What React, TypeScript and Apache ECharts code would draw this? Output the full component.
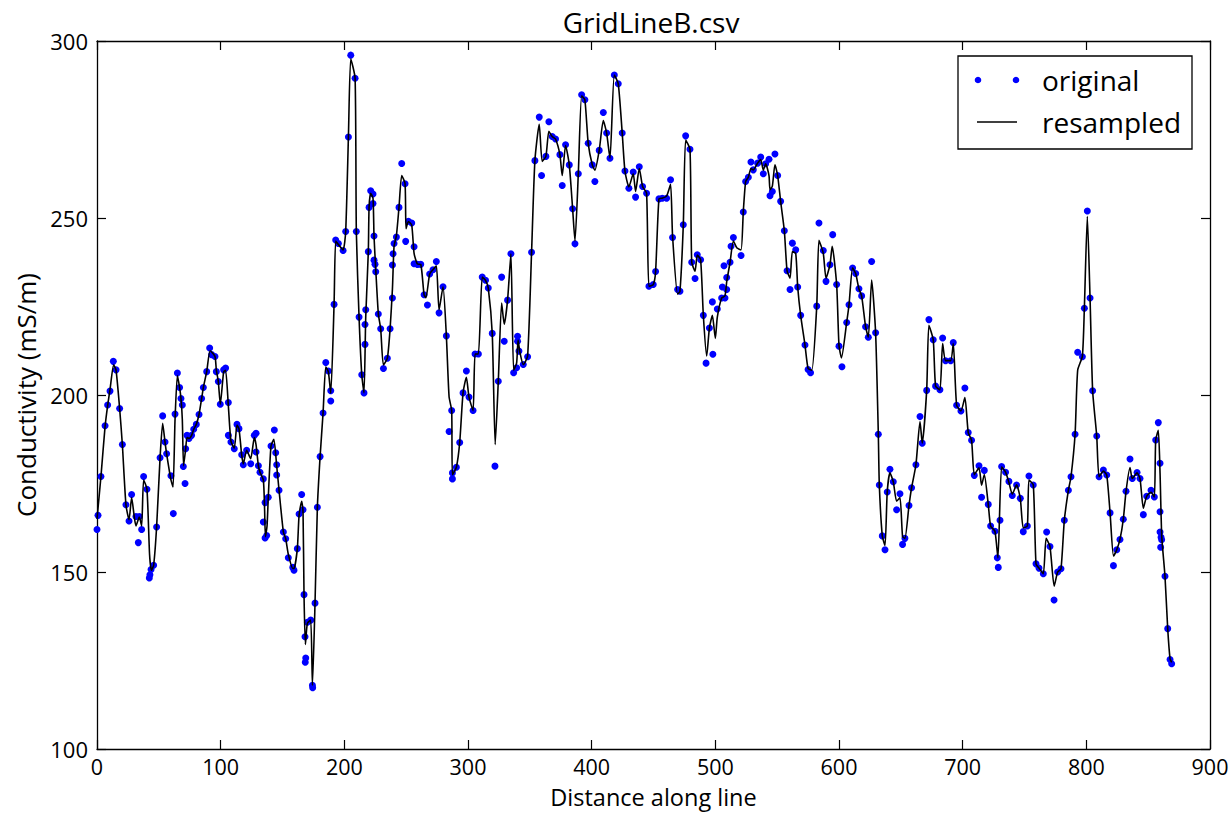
import React, { useEffect, useRef } from "react";
import * as echarts from "echarts";

const chartTitle = "GridLineB.csv";
const xAxisTitle = "Distance along line";
const yAxisTitle = "Conductivity (mS/m)";
const seriesNames = ["original", "resampled"];
const xTicks = { min: 0, max: 900, interval: 100 };
const yTicks = { min: 100, max: 300, interval: 50 };

// measured points ("original")
const originalPoints: [number, number][] = [
  [0, 162], [0.8, 166], [3.2, 177], [6.5, 191.3], [8.6, 197.2], [10.5, 201.1], [13.2, 209.5], [15.4, 207.1],
  [18.3, 196.2], [20.5, 186], [23.4, 169], [25.9, 164.4], [28, 171.9], [31.5, 165.7], [33.4, 158.3], [34.2, 165.7],
  [36.1, 162], [37.7, 177], [40.4, 173.4], [42.3, 148.3], [42.8, 149.2], [43.7, 150.7], [45.8, 151.9], [48.2, 162.7],
  [51, 182.3], [53.1, 194.1], [55, 186.7], [56.3, 183.4], [59.8, 177.2], [61.7, 166.5], [63.1, 194.6], [65, 206.2],
  [66.8, 202.1], [67.9, 199], [69, 197.2], [69.8, 179.8], [71.2, 175], [71.7, 184.8], [72.8, 188.6], [74.4, 187.7],
  [76.5, 188.6], [78.2, 190.3], [80.3, 191.7], [82.5, 194.5], [84.6, 199], [86, 202.1], [88.7, 206.6], [91.1, 213.3],
  [92.7, 211.4], [95.4, 210.9], [96.5, 206.6], [98.1, 203.8], [99.7, 197.4], [102.4, 207.1], [104, 207.6], [106.2, 197.9],
  [106.2, 188.6], [108.3, 186.7], [111, 184.8], [113.2, 191.7], [114.8, 190.5], [117, 183.1], [118.3, 180.3], [121, 184.4],
  [124.3, 180.6], [127.2, 188.6], [128.6, 189.2], [128.6, 183.9], [130.5, 180], [131.8, 178.2], [134.5, 176.3], [135.9, 169.6],
  [134.5, 164.1], [135.9, 159.6], [137.2, 160.3], [138.5, 171.1], [140.7, 185.6], [143.4, 190.1], [144.5, 183.7], [145.3, 180.3],
  [145.3, 177.4], [147.2, 173.1], [150.7, 161.3], [152.6, 159.4], [154.7, 154], [158.3, 151.3], [159.3, 150.5], [162, 156.6],
  [163.4, 166.4], [165.5, 171.9], [166.6, 167.6], [167.4, 143.6], [168.2, 131.7], [168.8, 125.7], [168.4, 124.5], [170.1, 135.8],
  [172.8, 136.4], [174.2, 118], [174.4, 117.3], [176.3, 141.2], [178.2, 168.3], [180.4, 182.6], [182.8, 194.9], [185, 209.2],
  [187.1, 206.8], [189, 201.2], [189, 198.3], [191.7, 225.6], [193, 243.8], [195.2, 242.8], [199, 240.8], [201.1, 246.2],
  [203.3, 272.9], [205.2, 296], [208.7, 289.5], [209.7, 246.2], [211.9, 222], [214.1, 205.7], [215.9, 200.6], [216.7, 214.3],
  [216.7, 219.9], [217.3, 224.1], [219.4, 240.5], [220, 253], [221.3, 257.7], [223.2, 256.8], [223.2, 254.1], [224, 244.9],
  [224, 238.1], [224.8, 236.9], [225.4, 234.8], [227.5, 222.9], [229.4, 218.7], [231.6, 207.5], [234.8, 210.4], [237, 218.7],
  [238.9, 227.4], [238.9, 236.7], [239.4, 239.9], [240.2, 242.8], [242.1, 244.6], [244.2, 253], [246.4, 265.4], [249.1, 259.7],
  [249.6, 243.4], [251.8, 249.1], [254.5, 248.6], [256.4, 241.9], [256.4, 237.1], [259.1, 236.9], [261.8, 236.9], [264.5, 228.3],
  [267.2, 225.4], [269, 234.2], [271.7, 235.4], [274.4, 237.7], [276.6, 223.2], [279.8, 230.6], [282.5, 216.7], [284.7, 189.7],
  [286.8, 195.6], [287.4, 178], [287.4, 176.3], [290.6, 179.6], [293.3, 186.6], [296, 200.6], [298.7, 206.8], [300.8, 199.4],
  [304.1, 195.6], [305.7, 211.6], [308.4, 211.6], [311.5, 233.3], [314.2, 232.4], [316.4, 230.2], [319.6, 217.4], [321.8, 179.9],
  [324.5, 203.9], [327.2, 233.3], [329.3, 215.2], [332, 226.8], [334.7, 239.9], [336.9, 206.3], [339.3, 207.7], [340.1, 216.6],
  [340.1, 215.2], [341.2, 212.4], [344.7, 208.6], [348.2, 210.8], [351.4, 240.3], [354.1, 266.2], [357.6, 278.5], [359.5, 262],
  [363, 267.4], [365.4, 277.2], [368.1, 273], [370.8, 272.3], [374.3, 267.9], [376.2, 259.2], [378.9, 270.7], [381.9, 265],
  [384.6, 252.6], [386.5, 242.7], [389.2, 262.5], [391.9, 284.8], [394.5, 283.4], [397.2, 271.1], [400.5, 265], [402.6, 260.3],
  [406.1, 269.1], [409.4, 279.8], [412.1, 274], [414.8, 266.9], [418.3, 290.4], [421.5, 287.9], [424.7, 274], [426.9, 263.3],
  [430.1, 258.4], [433.6, 263], [435.5, 255.9], [438.5, 264.5], [441.2, 258.9], [444.4, 257], [446.3, 230.7], [449.8, 231.2],
  [451.7, 234.9], [454.4, 255.4], [457.1, 255.6], [460.6, 255.6], [463.8, 260.8], [465.4, 244.5], [469.5, 229.8], [471.4, 229.3],
  [474.1, 248.1], [476, 273.2], [479.5, 269.4], [480.9, 237.5], [483.6, 232.9], [485.4, 239.6], [488.1, 238.2], [490.3, 222.5],
  [492.5, 209], [495.2, 218.9], [497.6, 226.3], [498, 211.5], [501.6, 224.3], [505.1, 227.4], [505.7, 230.5], [507, 236.5],
  [507.8, 227.4], [509.2, 229.8], [509.2, 233.2], [511.9, 237.5], [512.7, 242], [514.6, 244.5], [520.8, 239.4], [522.6, 251.7],
  [524.5, 260.3], [526.7, 261.5], [528.8, 265.8], [530.7, 263.6], [534.2, 265.5], [536.7, 267.2], [538.8, 262.5], [540.7, 265.3],
  [543.4, 266.6], [544.2, 256.3], [546.1, 257.5], [548.2, 268.1], [550.4, 262], [552.8, 254.7], [555.8, 246.4], [558, 235.1],
  [560.4, 229.8], [562.3, 242.9], [565, 241], [566.6, 230.5], [569, 222.5], [572.5, 214.1], [575, 207.2], [577, 206.3],
  [582, 225.1], [583.8, 248.6], [587.3, 240.8], [589.5, 232.1], [592.7, 236.8], [594.9, 245.3], [598.1, 231.2], [600, 213.8],
  [602.4, 208], [606.2, 220.5], [608.1, 225.5], [611, 235.9], [613.5, 234.3], [616.1, 230], [618.3, 228], [621.5, 219.3],
  [623.7, 216.3], [626.4, 237.7], [629.6, 217.6], [631.8, 188.9], [632.6, 174.6], [635, 160.2], [637.2, 156.3], [639, 172.6],
  [641.2, 179], [643.9, 175.5], [646.6, 167.6], [649.3, 172.1], [651.4, 157.8], [653.3, 159.5], [656.6, 168.8], [658.7, 173.8],
  [662.2, 180.3], [665.5, 193.9], [667.3, 186.4], [670.9, 201.3], [672.7, 221.3], [676.2, 215.6], [678.1, 202.5], [681.6, 201.5],
  [683.8, 216.1], [686.2, 209.7], [690.3, 209.7], [692.4, 214.8], [695.1, 197.1], [698.6, 195.5], [701.8, 202], [704.5, 189.4],
  [707.2, 187.2], [709.4, 177.3], [713.2, 180], [715.3, 171.1], [717.5, 178.7], [720.7, 169.1], [722.6, 163], [726.1, 161.5],
  [728, 154], [728.8, 151.3], [730.2, 164.6], [731.5, 179.8], [734.7, 178.2], [737.4, 175.6], [740.1, 171.6], [743.6, 174.6],
  [746.6, 170.8], [749, 161.4], [752.3, 163], [753.6, 177.1], [757.1, 174.6], [759.3, 152.3], [761.7, 151.1], [765.2, 149.5],
  [767.9, 161.3], [770.6, 157.2], [773.9, 142.1], [776.8, 150], [779.5, 150.9], [782.2, 164.6], [785.5, 173.1], [787.6, 176.9],
  [790.9, 188.9], [793, 212.1], [796.8, 210.8], [798.4, 224.5], [800.8, 252], [803, 227.4], [805.1, 201.2], [808.4, 188.4],
  [810.3, 176.9], [813.8, 178.8], [816.5, 177.4], [819.2, 166.7], [821.9, 151.8], [824.6, 156.3], [827.2, 159.2], [829.9, 164.9],
  [832.1, 172.8], [835.3, 181.9], [837.2, 176.4], [841, 178.1], [843.4, 176.4], [846.1, 166.2], [848.8, 171.4], [852.3, 173.1],
  [855, 171.2], [856.1, 187.3], [858.2, 192.2], [859.6, 180.7], [859.6, 167], [859.6, 161.3], [860.4, 159.8], [860.9, 159.1],
  [860.1, 157], [863.6, 148.8], [865.8, 134], [867.7, 125.3], [869, 124.1],
];

// resampled curve vertices
const resampledPoints: [number, number][] = [
  [0, 165], [3.2, 177], [6.5, 191], [8.6, 197], [10.5, 201.5], [13.5, 208.5], [15.4, 207], [18.3, 196.2], [20.5, 186],
  [23.4, 169], [25.9, 164.8], [28, 171], [30, 166], [31.5, 163], [34.2, 165.5], [36.1, 163], [37.7, 176], [40.4, 173.4],
  [42.5, 155], [44, 150.5], [45.8, 151.9], [48.2, 162.7], [51, 182.3], [53.1, 192], [55, 186.7], [56.3, 183.4],
  [59.8, 176], [61.5, 174], [63.1, 193], [65, 205.5], [66.8, 202.1], [67.9, 199], [69, 193], [70, 180], [71.7, 184.8],
  [72.8, 188], [74.4, 187.7], [76.5, 188.6], [78.2, 190.3], [80.3, 191.7], [82.5, 194.5], [84.6, 199], [86, 202.1],
  [88.7, 206.6], [91.5, 212.5], [95.4, 210.9], [96.5, 207], [98.1, 203.8], [99.7, 197.4], [102.4, 206.5], [104, 207],
  [106.2, 197], [108.3, 187], [111, 185], [113.2, 191.5], [114.8, 190.5], [117, 183.1], [118.3, 180.5], [121, 184.4],
  [124.3, 182], [127.2, 188], [128.6, 186], [130.5, 180], [131.8, 178.2], [134.5, 176], [135.5, 168], [136.2, 160],
  [137.5, 163], [138.5, 171.1], [140.7, 185.6], [143, 187.5], [145.3, 180], [147.2, 173.1], [150.7, 161.3], [152.6, 159.4],
  [154.7, 155], [158.3, 151], [159.3, 151], [162, 156.6], [163.4, 166], [165.5, 170], [166.6, 167], [167.4, 143.6],
  [168.5, 129.5], [170.1, 135.5], [172.8, 136.4], [174.2, 118], [176.3, 141.2], [178.2, 168.3], [180.4, 182.6], [182.8, 194.9],
  [185, 208], [187.1, 206.5], [189, 200.5], [191.7, 225.6], [193, 243.5], [195.2, 242.5], [199, 241], [201.1, 246.2],
  [203.3, 272.9], [205.2, 295], [208.7, 289.5], [209.7, 246.2], [211.9, 222], [214.1, 205.7], [215.9, 200.6], [217.3, 222],
  [219.4, 240.5], [220, 253], [221.3, 257], [223.2, 255.5], [224, 244.9], [225.4, 235.5], [227.5, 222.9], [229.4, 218.7],
  [231.6, 208.5], [234.8, 210.4], [237, 218.7], [238.9, 230], [240.2, 242], [242.1, 245], [244.2, 253], [246.4, 262],
  [249.1, 259.7], [249.9, 247], [251.8, 249], [254.5, 248], [256.4, 240], [259.1, 237], [261.8, 236.9], [264.5, 228.3],
  [266, 227.5], [269, 234.2], [271.7, 235.4], [274.4, 236.5], [276.6, 224], [279.8, 230.6], [282.5, 216.7], [284.7, 199.5],
  [286.8, 195.6], [287.4, 177.5], [290.6, 179.6], [293.3, 186.6], [296, 200.6], [298.7, 205], [300.8, 199.4], [304.1, 195.6],
  [305.7, 211.6], [308.4, 211.6], [311.5, 233.3], [314.2, 232.4], [316.4, 230.2], [319.6, 217.4], [322, 186], [324.5, 203.9],
  [327.2, 226], [329.3, 220], [332, 226.8], [334.7, 239.9], [336.9, 207], [339.3, 209], [340.5, 215.5], [342, 212],
  [344.7, 208.6], [348.2, 211], [351.4, 240.3], [354.1, 266.2], [357.6, 276.5], [360, 266], [363, 267.4], [365.4, 274.5],
  [368.1, 273], [370.8, 272.3], [374.3, 267.9], [376.2, 262], [378.9, 270.5], [381.9, 265], [384.6, 252.6], [386.5, 243.5],
  [389.2, 262.5], [391.9, 284.5], [394.5, 283.4], [397.2, 271.1], [400.5, 265], [402.6, 263.5], [406.1, 269.1], [409.4, 277.5],
  [412.1, 274], [414.8, 266.9], [418.3, 290.4], [421.5, 287.9], [424.7, 274], [426.9, 263.3], [430.1, 258.8], [433.6, 262.5],
  [435.5, 257.5], [438.5, 264], [441.2, 258.9], [444.4, 257], [446.3, 230.7], [449.8, 231.2], [451.7, 234.9], [454.4, 255.4],
  [457.1, 255.6], [460.6, 256.2], [463.8, 259.5], [465.4, 245], [469.5, 228.5], [471.4, 229.3], [474.1, 248.1], [476, 272],
  [479.5, 269.4], [480.9, 237.5], [483.6, 235], [485.4, 239.5], [488.1, 238.2], [490.3, 222.5], [493, 211], [495.2, 218.9],
  [497.6, 222.5], [500, 216], [501.6, 222], [505.1, 227.4], [507.8, 228], [509.2, 232], [511.9, 237.5], [514.6, 243.5],
  [517.5, 241.5], [520.8, 241], [522.6, 251.7], [524.5, 260.3], [526.7, 261.5], [528.8, 264], [530.7, 263.6], [534.2, 265.5],
  [536.7, 266.5], [538.8, 263.5], [540.7, 265.3], [543.4, 262], [544.2, 258], [546.1, 259], [548.2, 265], [550.4, 262],
  [552.8, 254.7], [555.8, 246.4], [558, 235.1], [560.4, 233], [562.3, 240.5], [565, 240], [566.6, 230.5], [569, 222.5],
  [572.5, 214.1], [575, 207.5], [578, 207], [582, 225.1], [583.8, 243.7], [587.3, 240], [589.5, 233], [592.7, 236.8],
  [594.5, 242], [598.1, 231.2], [600, 214], [602, 210.5], [606.2, 220.5], [608.1, 225.5], [611, 235.9], [613.5, 234.3],
  [616.1, 230], [618.3, 228], [621.5, 219.3], [623.7, 216.3], [626.4, 232.5], [629.6, 217.6], [631.8, 188.9], [632.6, 174.6],
  [635, 160.2], [637.2, 157.5], [639, 172.6], [641.2, 178], [643.9, 175.5], [646.6, 170], [649.3, 171], [651.4, 160],
  [653.3, 159.5], [656.6, 168.8], [658.7, 173.8], [662.2, 180.3], [665.5, 192.5], [667.3, 186.4], [670.9, 201.3], [672.7, 219.7],
  [676.2, 215.6], [678.1, 202.5], [681.6, 201.5], [683.8, 214.5], [686.2, 209.7], [690.3, 209.7], [692.4, 214.5], [695.1, 197.1],
  [698.6, 195.5], [701.8, 199.3], [704.5, 189.4], [707.2, 187.2], [709.4, 177.5], [713.2, 179.4], [715.3, 174.5], [717.5, 177.5],
  [720.7, 169.1], [722.6, 163], [726.1, 161.5], [728.5, 154], [731.5, 179.7], [734.7, 178.2], [737.4, 175.3], [740.1, 172],
  [743.6, 174.6], [746.6, 170.8], [749, 162.5], [752.3, 163], [753.6, 176], [757.1, 174.6], [759.3, 152.3], [761.7, 151.1],
  [765.2, 149.5], [767.5, 159.5], [770.6, 157.2], [774, 146], [776.8, 150], [779.5, 150.9], [782.2, 164.6], [785.5, 173.1],
  [787.6, 176.9], [790.9, 188.9], [793, 207], [796.8, 211], [798.4, 224.5], [800.8, 250.5], [803, 227.4], [805.1, 201.2],
  [808.4, 188.4], [810.3, 176.9], [813.8, 178.5], [816.5, 177.4], [819.2, 166.7], [822, 154.5], [824.6, 156.3], [827.2, 159.2],
  [829.9, 164.9], [832.1, 172.8], [835.3, 179.5], [837.2, 176.4], [841, 178], [843.4, 176.4], [846.1, 168], [848.8, 171.4],
  [852.3, 172.5], [855, 171.2], [856.1, 187.3], [858.2, 190], [859.6, 178], [861, 160], [863.6, 148.8], [865.8, 134],
  [867.7, 125.5], [869, 124.5],
];

const FONT = "Open Sans";

export default function App() {
  const ref = useRef<HTMLDivElement>(null);
  useEffect(() => {
    if (!ref.current) return;
    const chart = echarts.init(ref.current, null, { renderer: "svg" });
    const gridLeft = 97, gridTop = 41, gridW = 1113, gridH = 709;
    const baseAxis = {
      type: "value" as const,
      splitLine: { show: false },
      axisLine: { show: true, onZero: false, lineStyle: { color: "#000", width: 1.3 } },
      axisTick: { show: true, inside: true, length: 9, lineStyle: { color: "#000", width: 1.2 } },
    };
    chart.setOption({
      animation: false,
      backgroundColor: "#fff",
      title: {
        text: chartTitle,
        left: 646,
        top: 3,
        textAlign: "center",
        textStyle: { fontFamily: FONT, fontSize: 28, fontWeight: "normal", color: "#000" },
      },
      grid: { left: gridLeft, top: gridTop, width: gridW, height: gridH, show: false },
      xAxis: [
        {
          ...baseAxis,
          position: "bottom",
          min: xTicks.min, max: xTicks.max, interval: xTicks.interval,
          name: xAxisTitle, nameLocation: "middle", nameGap: 37,
          nameTextStyle: { fontFamily: FONT, fontSize: 23.5, lineHeight: 22, color: "#000" },
          axisLabel: { fontFamily: FONT, fontSize: 21.5, lineHeight: 20, color: "#000", margin: 7 },
        },
        {
          ...baseAxis,
          position: "top",
          min: xTicks.min, max: xTicks.max, interval: xTicks.interval,
          axisLabel: { show: false },
        },
      ],
      yAxis: [
        {
          ...baseAxis,
          position: "left",
          min: yTicks.min, max: yTicks.max, interval: yTicks.interval,
          name: yAxisTitle, nameLocation: "middle", nameGap: 56, nameRotate: 90,
          nameTextStyle: { fontFamily: FONT, fontSize: 26, color: "#000" },
          axisLabel: { fontFamily: FONT, fontSize: 22, color: "#000", margin: 9 },
        },
        {
          ...baseAxis,
          position: "right",
          min: yTicks.min, max: yTicks.max, interval: yTicks.interval,
          axisLabel: { show: false },
        },
      ],
      series: [
        {
          name: seriesNames[0],
          type: "scatter",
          data: originalPoints,
          symbol: "circle",
          symbolSize: 7,
          itemStyle: { color: "#0000ff", opacity: 1 },
          z: 2,
        },
        {
          name: seriesNames[1],
          type: "line",
          data: resampledPoints,
          showSymbol: false,
          smooth: 0.2,
          lineStyle: { color: "#000", width: 1.6 },
          z: 3,
        },
      ],
      graphic: [
        {
          type: "rect",
          shape: { x: 958, y: 56, width: 234, height: 93 },
          style: { fill: "#fff", stroke: "#000", lineWidth: 1.3 },
          z: 10,
        },
        { type: "circle", shape: { cx: 978, cy: 80, r: 3.3 }, style: { fill: "#0000ff" }, z: 11 },
        { type: "circle", shape: { cx: 1016, cy: 80, r: 3.3 }, style: { fill: "#0000ff" }, z: 11 },
        {
          type: "text", x: 1042, y: 80, z: 11,
          style: { text: seriesNames[0], font: `28px "${FONT}"`, fill: "#000", verticalAlign: "middle", align: "left" },
        },
        { type: "line", shape: { x1: 977, y1: 122, x2: 1017, y2: 122 }, style: { stroke: "#000", lineWidth: 1.6 }, z: 11 },
        {
          type: "text", x: 1042, y: 122, z: 11,
          style: { text: seriesNames[1], font: `28px "${FONT}"`, fill: "#000", verticalAlign: "middle", align: "left" },
        },
      ],
    });
    return () => chart.dispose();
  }, []);
  return <div ref={ref} style={{ position: "fixed", left: 0, top: 0, width: 1232, height: 814 }} />;
}
